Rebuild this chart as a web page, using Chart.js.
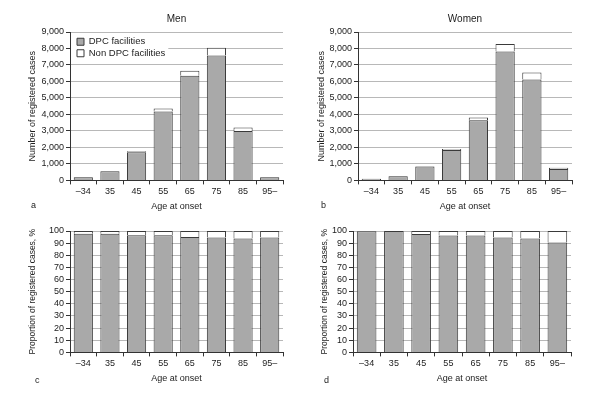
<!DOCTYPE html>
<html>
<head>
<meta charset="utf-8">
<script src="https://cdn.jsdelivr.net/npm/chart.js@4/dist/chart.umd.min.js"></script>
<style>
body { margin: 0; background: #fff; }
#wrap { position: relative; width: 600px; height: 399px; overflow: hidden; font-family: 'Liberation Sans', Arial, sans-serif; }
.panel { position: absolute; }
.tag { position: absolute; font-size: 9px; color: #222; line-height: 10px; }
</style>
</head>
<body>
<div id="wrap">
  <canvas id="men-count" class="panel" width="300" height="216" style="left:0;top:0"></canvas>
  <canvas id="women-count" class="panel" width="300" height="216" style="left:300px;top:0"></canvas>
  <canvas id="men-pct" class="panel" width="300" height="172" style="left:0;top:216px"></canvas>
  <canvas id="women-pct" class="panel" width="300" height="172" style="left:300px;top:216px"></canvas>
  <div class="tag" style="left:31px;top:200px">a</div>
  <div class="tag" style="left:321px;top:200px">b</div>
  <div class="tag" style="left:35px;top:375px">c</div>
  <div class="tag" style="left:324px;top:375px">d</div>
</div>
<script>
// age at onset groups
var ageGroups = ['–34', '35', '45', '55', '65', '75', '85', '95–'];

// number of registered cases
var menDpc = [195, 548, 1710, 4180, 6350, 7570, 2990, 190];
var menNonDpc = [5, 12, 60, 180, 300, 470, 220, 10];
var womenDpc = [100, 258, 840, 1840, 3650, 7810, 6120, 690];
var womenNonDpc = [0, 2, 20, 70, 165, 460, 430, 70];

// proportion of registered cases, %
var menPctDpc = [97.8, 97.8, 96.5, 96.5, 95.1, 94.6, 93.8, 94.6];
var menPctNonDpc = [2.2, 2.2, 3.5, 3.5, 4.9, 5.4, 6.2, 5.4];
var womenPctDpc = [99.8, 100, 97.6, 96.2, 96.2, 94.6, 93.8, 90.5];
var womenPctNonDpc = [0.2, 0, 2.4, 3.8, 3.8, 5.4, 6.2, 9.5];

Chart.defaults.font.family = "'Liberation Sans', Arial, sans-serif";
Chart.defaults.color = '#222';

// legend sits inside the plot with a white patch behind it
var legendPatch = {
    id: 'legendPatch',
    afterLayout: function (chart) {
        var lg = chart.legend;
        if (!lg || !lg.options.display) return;
        lg.left = chart.chartArea.left + 5;
        lg.top = chart.chartArea.top + 3;
    },
    beforeDatasetsDraw: function (chart) {
        var lg = chart.legend;
        if (!lg || !lg.options.display) return;
        var boxes = lg.legendHitBoxes;
        var w = Math.max.apply(null, boxes.map(function (b) { return b.width; }));
        var pad = lg.options.labels.padding;
        var h = boxes.length * (boxes[0].height + pad) + pad + 2;
        var ctx = chart.ctx;
        ctx.save();
        ctx.fillStyle = '#fff';
        ctx.fillRect(chart.chartArea.left + 1, lg.top, lg.left - chart.chartArea.left + pad + w + 2, h);
        ctx.restore();
        lg.draw();
    }
};

function panel(id, dpc, nonDpc, cfg) {
    return new Chart(document.getElementById(id).getContext('2d'), {
        type: 'bar',
        data: {
            labels: ageGroups,
            datasets: [{
                label: 'DPC facilities',
                data: dpc,
                backgroundColor: '#a9a9a9',
                borderColor: '#3a3a3a',
                borderWidth: 1
            }, {
                label: 'Non DPC facilities',
                data: nonDpc,
                backgroundColor: '#ffffff',
                borderColor: '#3a3a3a',
                borderWidth: 1
            }]
        },
        options: {
            responsive: false,
            animation: false,
            devicePixelRatio: 1,
            layout: { padding: { left: 0, right: cfg.padRight, top: cfg.padTop, bottom: 0 } },
            datasets: { bar: { categoryPercentage: 1, barPercentage: 0.72 } },
            plugins: {
                title: cfg.title ? {
                    display: true, text: cfg.title, fullSize: false,
                    font: { size: 10, weight: 'normal' }, color: '#222',
                    padding: { top: 13, bottom: 7 }
                } : { display: false },
                legend: {
                    display: !!cfg.legend,
                    position: 'chartArea',
                    align: 'start',
                    labels: { boxWidth: 7, boxHeight: 7, font: { size: 9.5 }, color: '#222', padding: 2 }
                },
                tooltip: { enabled: false }
            },
            scales: {
                x: {
                    stacked: true,
                    grid: { display: true, drawOnChartArea: false, offset: true, tickLength: 4, color: '#333' },
                    border: { color: '#333' },
                    ticks: { font: { size: 9 }, color: '#222', padding: 2, maxRotation: 0, autoSkip: false },
                    title: { display: true, text: 'Age at onset', font: { size: 9 }, color: '#222', padding: { top: 2, bottom: 4 } }
                },
                y: {
                    stacked: true,
                    min: 0,
                    max: cfg.max,
                    ticks: { stepSize: cfg.step, autoSkip: false, font: { size: 9 }, color: '#222', padding: 2 },
                    grid: { color: '#b8b8b8', tickColor: '#333', tickLength: 4 },
                    border: { color: '#333' },
                    title: {
                        display: true, text: cfg.yTitle, font: { size: cfg.yTitleSize }, color: '#222',
                        padding: { top: cfg.yTitlePad, bottom: 0 }
                    },
                    afterFit: function (scale) { scale.width = cfg.axisW; }
                }
            }
        },
        plugins: [legendPatch]
    });
}

panel('men-count', menDpc, menNonDpc, {
    title: 'Men', legend: true, max: 9000, step: 1000, padTop: 0, padRight: 17, axisW: 70,
    yTitle: 'Number of registered cases', yTitleSize: 9, yTitlePad: 27.6
});
panel('women-count', womenDpc, womenNonDpc, {
    title: 'Women', legend: false, max: 9000, step: 1000, padTop: 0, padRight: 28, axisW: 58,
    yTitle: 'Number of registered cases', yTitleSize: 9, yTitlePad: 16.6
});
panel('men-pct', menPctDpc, menPctNonDpc, {
    title: null, legend: false, max: 100, step: 10, padTop: 15, padRight: 17, axisW: 70,
    yTitle: 'Proportion of registered cases, %', yTitleSize: 8.5, yTitlePad: 27.9
});
panel('women-pct', womenPctDpc, womenPctNonDpc, {
    title: null, legend: false, max: 100, step: 10, padTop: 15, padRight: 29, axisW: 53,
    yTitle: 'Proportion of registered cases, %', yTitleSize: 8.5, yTitlePad: 19.9
});
</script>
</body>
</html>
